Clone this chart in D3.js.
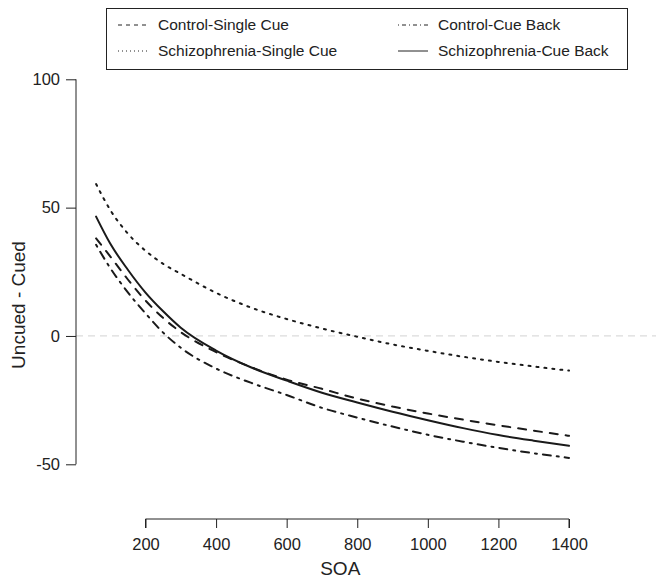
<!DOCTYPE html>
<html>
<head>
<meta charset="utf-8">
<script src="https://cdn.jsdelivr.net/npm/d3@7"></script>
<style>
  body { margin: 0; background: #fff; }
  text { font-family: "Liberation Sans", Arial, Helvetica, sans-serif; fill: #222; }
</style>
</head>
<body>
<script>
// SOA values
var soa = [60, 100, 150, 200, 250, 300, 400, 500, 600, 700, 800, 900, 1000, 1100, 1200, 1300, 1400]

var controlSingle = [38.0, 31.0, 22.0, 13.8, 7.0, 1.5, -6.3, -12.2, -17.0, -20.6, -24.4, -27.5, -30.2, -32.6, -34.8, -36.9, -38.9]
var controlBack = [35.5, 26.5, 17.0, 8.8, 1.3, -4.6, -12.7, -18.3, -23.0, -28.0, -31.8, -35.3, -38.5, -41.2, -43.6, -45.7, -47.5]
var schizSingle = [59.2, 49.1, 39.9, 33.2, 28.1, 24.2, 16.8, 11.0, 6.6, 2.9, -0.3, -3.3, -5.8, -8.1, -10.1, -11.9, -13.5]
var schizBack = [46.5, 36.0, 25.8, 16.9, 9.6, 3.2, -5.7, -12.3, -17.4, -22.1, -25.9, -29.5, -32.8, -35.9, -38.6, -40.8, -42.8]

var seriesNames = ["Control-Single Cue", "Control-Cue Back", "Schizophrenia-Single Cue", "Schizophrenia-Cue Back"]
var xTicks = [200, 400, 600, 800, 1000, 1200, 1400]
var yTicks = [-50, 0, 50, 100]

var width = 656, height = 580

var series = [
  { name: seriesNames[0], values: controlSingle, dash: "8,8", legendDash: "4,4" },
  { name: seriesNames[1], values: controlBack, dash: "2,6,8,6", legendDash: "1,3,4,3" },
  { name: seriesNames[2], values: schizSingle, dash: "2,6", legendDash: "1,3" },
  { name: seriesNames[3], values: schizBack, dash: null, legendDash: null }
]

var x = d3.scaleLinear().domain([200, 1400]).range([145.5, 569])
var y = d3.scaleLinear().domain([-50, 100]).range([464.3, 79.3])

var svg = d3.select("body")
    .append("svg")
    .attr("width", width)
    .attr("height", height)

// zero reference line
svg.append("line")
    .attr("x1", 76).attr("x2", width)
    .attr("y1", y(0)).attr("y2", y(0))
    .attr("stroke", "#dcdcdc")
    .attr("stroke-width", 1.2)
    .attr("stroke-dasharray", "7,5")

var valueline = d3.line()
    .x(function (d, i) { return x(soa[i]) })
    .y(function (d) { return y(d) })
    .curve(d3.curveMonotoneX)

series.forEach(function (s) {
  svg.append("path")
      .attr("d", valueline(s.values))
      .attr("fill", "none")
      .attr("stroke", "#1a1a1a")
      .attr("stroke-width", 2)
      .attr("stroke-linecap", "round")
      .attr("stroke-dasharray", s.dash)
})

var plain = function (d) { return String(d) }

// Y axis
var yAxis = svg.append("g")
    .attr("transform", "translate(76,0)")
    .call(d3.axisLeft(y).tickValues(yTicks).tickFormat(plain).tickSize(10).tickPadding(6))
yAxis.select(".domain").attr("d", "M0," + y(100) + "V" + y(-50))

// X axis
var xAxis = svg.append("g")
    .attr("transform", "translate(0,519)")
    .call(d3.axisBottom(x).tickValues(xTicks).tickFormat(plain).tickSize(9).tickPadding(10))
xAxis.select(".domain").attr("d", "M" + x(200) + ",9V0H" + x(1400) + "V9")

svg.selectAll(".tick text")
    .style("font-family", "'Liberation Sans', Arial, sans-serif")
    .style("font-size", "16.5px")
    .attr("fill", "#222")
svg.selectAll(".tick line, .domain").attr("stroke", "#222")

// axis titles
svg.append("text")
    .attr("x", x(800) - 17)
    .attr("y", 575)
    .attr("text-anchor", "middle")
    .style("font-size", "19px")
    .text("SOA")

svg.append("text")
    .attr("transform", "translate(25,305) rotate(-90)")
    .attr("text-anchor", "middle")
    .style("font-size", "19px")
    .text("Uncued - Cued")

// legend
var legend = svg.append("g")
legend.append("rect")
    .attr("x", 106.5).attr("y", 8.5)
    .attr("width", 521).attr("height", 61)
    .attr("fill", "none")
    .attr("stroke", "#222")
    .attr("stroke-width", 1)

var legendPos = [[118, 25], [398, 25], [118, 51], [398, 51]]
series.forEach(function (s, i) {
  var p = legendPos[i]
  legend.append("line")
      .attr("x1", p[0]).attr("x2", p[0] + 30)
      .attr("y1", p[1]).attr("y2", p[1])
      .attr("stroke", "#222")
      .attr("stroke-width", 1)
      .attr("stroke-dasharray", s.legendDash)
  legend.append("text")
      .attr("x", p[0] + 40)
      .attr("y", p[1] + 5)
      .style("font-size", "15.5px")
      .text(s.name)
})
</script>
</body>
</html>
